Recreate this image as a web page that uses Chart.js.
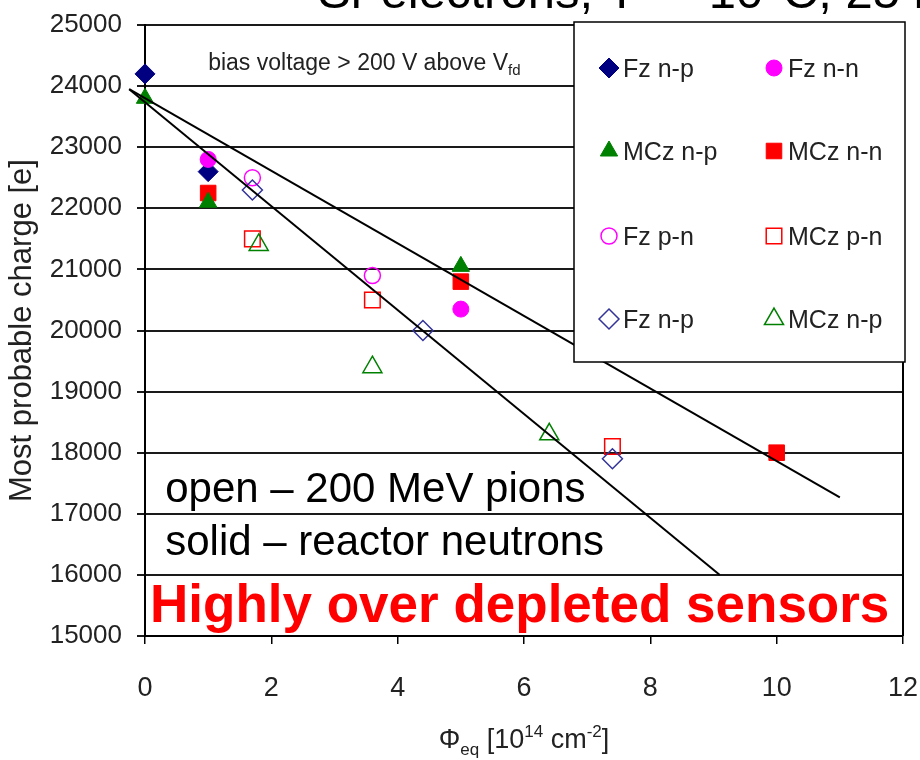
<!DOCTYPE html>
<html>
<head>
<meta charset="utf-8">
<script src="https://cdn.jsdelivr.net/npm/chart.js@4.4.1/dist/chart.umd.min.js"></script>
<style>
  html, body { margin: 0; padding: 0; background: #ffffff; }
  #wrap { width: 920px; height: 760px; position: relative; }
</style>
</head>
<body>
<div id="wrap"><canvas id="c" width="920" height="760"></canvas></div>
<script>
// Fluence (10^14 neq/cm^2) and most probable charge (electrons) per sensor type
const fzNpSolidX = [0, 1];
const fzNpSolidY = [24200, 22600];
const fzNnX = [1, 5];
const fzNnY = [22800, 20350];
const mczNpSolidX = [0, 1, 5];
const mczNpSolidY = [23800, 22100, 21050];
const mczNnX = [1, 5, 10];
const mczNnY = [22250, 20800, 18000];
const fzPnX = [1.7, 3.6];
const fzPnY = [22500, 20900];
const mczPnX = [1.7, 3.6, 7.4];
const mczPnY = [21500, 20500, 18100];
const fzNpOpenX = [1.7, 4.4, 7.4];
const fzNpOpenY = [22300, 20000, 17900];
const mczNpOpenX = [1.8, 3.6, 6.4];
const mczNpOpenY = [21400, 19400, 18300];

// Straight-line trends (neutrons: shallow, pions: steep)
const trendNeutronX = [-0.25, 11.0];
const trendNeutronY = [23950, 17270];
const trendPionX = [-0.25, 9.1];
const trendPionY = [23950, 16000];

// Axis ranges and tick steps
const xRange = [0, 12];
const xStep = 2;
const yRange = [15000, 25000];
const yStep = 1000;

const SANS = '"Liberation Sans", Arial, sans-serif';

function pts(xs, ys) { return xs.map((x, i) => ({ x: x, y: ys[i] })); }

function series(label, xs, ys, style, fill, stroke, radius, bw) {
  return {
    label: label,
    data: pts(xs, ys),
    pointStyle: style,
    pointRadius: radius,
    pointHoverRadius: radius,
    pointBackgroundColor: fill,
    pointBorderColor: stroke,
    pointBorderWidth: bw,
    showLine: false,
    clip: false
  };
}

function trend(xs, ys) {
  return {
    label: '',
    data: pts(xs, ys),
    showLine: true,
    borderColor: '#000000',
    borderWidth: 2,
    pointRadius: 0,
    pointHoverRadius: 0,
    fill: false,
    clip: false
  };
}

const NONE = 'rgba(0,0,0,0)';
const datasets = [
  trend(trendNeutronX, trendNeutronY),
  trend(trendPionX, trendPionY),
  series('Fz n-p', fzNpOpenX, fzNpOpenY, 'rectRot', NONE, '#333399', 10, 1.5),
  series('MCz n-p', mczNpOpenX, mczNpOpenY, 'triangle', NONE, '#008000', 11, 1.5),
  series('Fz p-n', fzPnX, fzPnY, 'circle', NONE, '#ff00ff', 8, 1.5),
  series('MCz p-n', mczPnX, mczPnY, 'rect', NONE, '#ff0000', 11, 1.5),
  series('MCz n-p', mczNpSolidX, mczNpSolidY, 'triangle', '#008000', '#008000', 10, 1),
  series('MCz n-n', mczNnX, mczNnY, 'rect', '#ff0000', '#ff0000', 11, 1),
  series('Fz n-n', fzNnX, fzNnY, 'circle', '#ff00ff', '#ff00ff', 8, 1),
  series('Fz n-p', fzNpSolidX, fzNpSolidY, 'rectRot', '#000080', '#000080', 10, 1)
];

// Legend layout: two columns, four rows (dataset indices)
const legendRows = [
  [9, 8],
  [6, 7],
  [4, 5],
  [2, 3]
];

const decorations = {
  id: 'decorations',
  beforeDatasetsDraw(chart) {
    const { ctx, chartArea } = chart;
    ctx.save();
    ctx.strokeStyle = '#000000';
    ctx.lineWidth = 2;
    ctx.beginPath();
    ctx.moveTo(chartArea.right, chartArea.top);
    ctx.lineTo(chartArea.right, chartArea.bottom);
    ctx.stroke();
    ctx.restore();
  },
  afterDraw(chart) {
    const { ctx, chartArea, scales } = chart;
    const xs = scales.x, ys = scales.y;
    ctx.save();

    // heading, running off the top of the canvas
    ctx.fillStyle = '#000000';
    ctx.textBaseline = 'alphabetic';
    ctx.textAlign = 'left';
    ctx.font = '28px ' + SANS;
    ctx.fillText('90', 284, -14);
    ctx.font = '49px ' + SANS;
    ctx.fillText('Sr electrons, T = -10\u00B0C, 25 ns', 318, 8);

    // bias note with subscript
    ctx.fillStyle = '#222222';
    ctx.font = '23px ' + SANS;
    const bx = xs.getPixelForValue(1.0), by = ys.getPixelForValue(24270);
    const main = 'bias voltage > 200 V above V';
    ctx.fillText(main, bx, by);
    const mw = ctx.measureText(main).width;
    ctx.font = '15px ' + SANS;
    ctx.fillText('fd', bx + mw, by + 5);

    // irradiation key
    ctx.fillStyle = '#000000';
    ctx.font = '42px ' + SANS;
    const kx = xs.getPixelForValue(0.32);
    ctx.fillText('open \u2013 200 MeV pions', kx, ys.getPixelForValue(17200));
    ctx.fillText('solid \u2013 reactor neutrons', kx, ys.getPixelForValue(16330));

    ctx.fillStyle = '#ff0000';
    ctx.font = 'bold 53px ' + SANS;
    ctx.fillText('Highly over depleted sensors', xs.getPixelForValue(0.08), ys.getPixelForValue(15230));

    // legend box
    const lx0 = 574, ly0 = 22, lx1 = 905, ly1 = 362;
    ctx.fillStyle = '#ffffff';
    ctx.fillRect(lx0, ly0, lx1 - lx0, ly1 - ly0);
    ctx.strokeStyle = '#000000';
    ctx.lineWidth = 1.5;
    ctx.strokeRect(lx0, ly0, lx1 - lx0, ly1 - ly0);

    const colMarker = [609, 774];
    const rowY = [68, 151, 236, 319];
    ctx.font = '25px ' + SANS;
    ctx.textBaseline = 'middle';
    legendRows.forEach((row, r) => {
      row.forEach((di, c) => {
        const ds = chart.data.datasets[di];
        ctx.fillStyle = ds.pointBackgroundColor;
        ctx.strokeStyle = ds.pointBorderColor;
        ctx.lineWidth = ds.pointBorderWidth;
        Chart.helpers.drawPoint(ctx, {
          pointStyle: ds.pointStyle,
          radius: ds.pointRadius,
          borderWidth: ds.pointBorderWidth,
          rotation: 0
        }, colMarker[c], rowY[r]);
        ctx.fillStyle = '#222222';
        ctx.fillText(ds.label, colMarker[c] + 14, rowY[r] + 2);
      });
    });

    // x axis title with sub/superscripts
    ctx.fillStyle = '#222222';
    ctx.textBaseline = 'alphabetic';
    const parts = [
      ['\u03A6', 27, 0],
      ['eq', 17, 7],
      [' [10', 27, 0],
      ['14', 17, -11],
      [' cm', 27, 0],
      ['-2', 17, -11],
      [']', 27, 0]
    ];
    let total = 0;
    parts.forEach(p => { ctx.font = p[1] + 'px ' + SANS; total += ctx.measureText(p[0]).width; });
    let tx = (chartArea.left + chartArea.right) / 2 - total / 2;
    const ty = 748;
    parts.forEach(p => {
      ctx.font = p[1] + 'px ' + SANS;
      ctx.fillText(p[0], tx, ty + p[2]);
      tx += ctx.measureText(p[0]).width;
    });
    ctx.restore();
  }
};

new Chart(document.getElementById('c'), {
  type: 'scatter',
  data: { datasets: datasets },
  options: {
    responsive: false,
    animation: false,
    devicePixelRatio: 1,
    layout: { padding: { left: 0, top: 25, right: 17, bottom: 0 } },
    plugins: {
      legend: { display: false },
      tooltip: { enabled: false },
      title: { display: false }
    },
    scales: {
      x: {
        type: 'linear',
        min: xRange[0],
        max: xRange[1],
        afterFit(scale) {
          scale.height = 124;
          scale.paddingLeft = 0;
          scale.paddingRight = 0;
        },
        ticks: {
          stepSize: xStep,
          color: '#222222',
          padding: 28,
          font: { family: SANS, size: 27, lineHeight: 1.2 }
        },
        grid: { drawOnChartArea: false, drawTicks: true, tickLength: 8, color: '#000000', lineWidth: 1.5 },
        border: { display: true, color: '#000000', width: 2 }
      },
      y: {
        type: 'linear',
        min: yRange[0],
        max: yRange[1],
        afterFit(scale) {
          scale.width = 145;
          scale.paddingTop = 0;
          scale.paddingBottom = 0;
        },
        ticks: {
          stepSize: yStep,
          color: '#222222',
          padding: 15,
          callback: (v) => String(v),
          font: { family: SANS, size: 26, lineHeight: 1.2 }
        },
        grid: { color: '#1a1a1a', lineWidth: 2, drawTicks: true, tickLength: 8 },
        border: { display: true, color: '#000000', width: 2 },
        title: {
          display: true,
          text: 'Most probable charge [e]',
          color: '#222222',
          font: { family: SANS, size: 31, lineHeight: 1.2 },
          padding: { top: 4, bottom: 0 }
        }
      }
    }
  },
  plugins: [decorations]
});
</script>
</body>
</html>
